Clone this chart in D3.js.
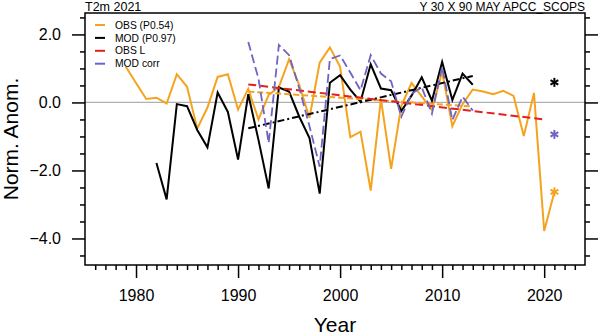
<!DOCTYPE html>
<html>
<head>
<meta charset="utf-8">
<script src="https://cdn.jsdelivr.net/npm/d3@7"></script>
<style>
  body { margin: 0; background: #fff; }
  svg { display: block; font-family: "Liberation Sans", Arial, Helvetica, sans-serif; }
</style>
</head>
<body>
<svg id="chart" width="599" height="336"></svg>
<script>
// observed normalized anomaly, 1979-2021
const obsYears = d3.range(1979, 2022);
const obsValues = [
  1.05, 0.57, 0.10, 0.14, -0.03, 0.83, 0.46, -0.77, -0.15, 0.75,
  0.83, -0.21, 0.40, -0.50, 0.22, 0.45, 1.27, 0.50, -0.45, 1.17,
  1.62, 1.05, -1.02, -0.86, -2.59, 0.10, -1.95, -0.10, 0.57, 0.18,
  -0.22, 0.90, -0.70, -0.05, 0.38, 0.32, 0.24, 0.34, 0.19, -0.99,
  0.28, -3.78, -2.63
];

// model hindcast, 1982-2013
const modYears = d3.range(1982, 2014);
const modValues = [
  -1.78, -2.85, -0.05, -0.11, -0.81, -1.32, 0.29, -0.28, -1.68, 0.24,
  -1.10, -2.53, 0.44, 0.32, -0.42, -1.05, -2.68, 0.58, 0.80, 0.38,
  0.02, 1.12, 0.41, 0.36, -0.25, 0.20, 0.74, 0.05, 1.19, 0.07,
  0.85, 0.52
];

// corrected model, 1991-2013
const corrYears = d3.range(1991, 2014);
const corrValues = [
  1.78, 0.70, -1.19, 1.69, 1.39, 0.42, -0.70, -1.89, 1.28, 1.38,
  0.88, 0.36, 1.39, 0.85, 0.62, -0.42, 0.25, 0.45, -0.33, 1.05,
  -0.52, 0.17, -0.24
];

// linear trends (end points)
const obsTrend = [[1991, 0.53], [2020, -0.50]];
const obsTrendHind = [[1991, 0.32], [2013, -0.12]];
const modTrend = [[1991, -0.76], [2013, 0.78]];

// 2021 forecast markers
const fcstYear = 2021;
const fcstObs = -2.63;
const fcstMod = 0.59;
const fcstCorr = -0.94;

const yTicks = [2, 0, -2, -4];
const xTicks = [1980, 1990, 2000, 2010, 2020];
const legendNames = ["OBS (P0.54)", "MOD (P0.97)", "OBS L", "MOD corr"];

const ORANGE = "#f5a31f", PURPLE = "#6f63c4", RED = "#e4201c";

const margin = {top: 13, right: 14, bottom: 71, left: 85};
const width = 599 - margin.left - margin.right,
      height = 336 - margin.top - margin.bottom;

const svg = d3.select("#chart");
const g = svg.append("g").attr("transform", "translate(" + margin.left + "," + margin.top + ")");

const x = d3.scaleLinear().domain([1975, 2024]).range([0, width]);
const y = d3.scaleLinear().domain([-4.78, 2.63]).range([height, 0]);

// zero line
g.append("line")
  .attr("x1", 0).attr("x2", width)
  .attr("y1", y(0)).attr("y2", y(0))
  .style("stroke", "#b0b0b0").style("stroke-width", 1.2);

const line = d3.line().x(d => x(d[0])).y(d => y(d[1]));
const zip = (a, b) => a.map((v, i) => [v, b[i]]);

function drawLine(data, color, w, dash) {
  g.append("path")
    .datum(data)
    .attr("d", line)
    .style("fill", "none")
    .style("stroke", color)
    .style("stroke-width", w)
    .style("stroke-linejoin", "miter")
    .style("stroke-dasharray", dash || null);
}

drawLine(zip(obsYears, obsValues), ORANGE, 2);
drawLine(zip(modYears, modValues), "#000", 2);
drawLine(obsTrendHind, ORANGE, 2, "6,3");
drawLine(modTrend, "#000", 2, "7,3,2,3");
drawLine(obsTrend, RED, 2, "8,4");
drawLine(zip(corrYears, corrValues), PURPLE, 1.8, "9,4");

// forecast asterisks
function asterisk(yr, val, color) {
  const cx = x(yr), cy = y(val), r = 4.5;
  const a = g.append("g").attr("transform", "translate(" + cx + "," + cy + ")");
  [90, 30, 150].forEach(ang => {
    const t = ang * Math.PI / 180;
    a.append("line")
      .attr("x1", -r * Math.cos(t)).attr("y1", -r * Math.sin(t))
      .attr("x2", r * Math.cos(t)).attr("y2", r * Math.sin(t))
      .style("stroke", color).style("stroke-width", 2);
  });
}
asterisk(fcstYear, fcstMod, "#000");
asterisk(fcstYear, fcstCorr, PURPLE);
asterisk(fcstYear, fcstObs, ORANGE);

// axes, ticks pointing outward
const minorX = d3.range(1976, 2024).filter(v => v % 10 !== 0);
const minorY = d3.range(-4.5, 2.6, 0.5).filter(v => Math.abs(v % 2) > 0.01);

function styleAxis(sel) {
  sel.select(".domain").remove();
  sel.selectAll("line").style("stroke", "#000").style("stroke-width", 1.5);
  sel.selectAll("text").style("font-size", "16px").style("fill", "#000");
}

g.append("g").attr("transform", "translate(0," + height + ")")
  .call(d3.axisBottom(x).tickValues(minorX).tickSize(5).tickFormat(""))
  .call(styleAxis);
g.append("g").attr("transform", "translate(0," + height + ")")
  .call(d3.axisBottom(x).tickValues(xTicks).tickSize(13).tickPadding(12).tickFormat(d3.format("d")))
  .call(styleAxis);

g.append("g")
  .call(d3.axisLeft(y).tickValues(minorY).tickSize(5).tickFormat(""))
  .call(styleAxis);
g.append("g")
  .call(d3.axisLeft(y).tickValues(yTicks).tickSize(13).tickPadding(11).tickFormat(d3.format(".1f")))
  .call(styleAxis);
g.append("g").attr("transform", "translate(" + width + ",0)")
  .call(d3.axisRight(y).tickValues(minorY).tickSize(5).tickFormat(""))
  .call(styleAxis);
g.append("g").attr("transform", "translate(" + width + ",0)")
  .call(d3.axisRight(y).tickValues(yTicks).tickSize(13).tickFormat(""))
  .call(styleAxis);

// frame
g.append("rect")
  .attr("width", width).attr("height", height)
  .style("fill", "none").style("stroke", "#000").style("stroke-width", 1.5);

// legend
const legend = g.append("g").attr("transform", "translate(10,12)");
const legendColors = [ORANGE, "#000", RED, PURPLE];
legendNames.forEach((name, i) => {
  const row = legend.append("g").attr("transform", "translate(0," + (i * 12.9) + ")");
  row.append("line").attr("x1", 0).attr("x2", 10)
    .style("stroke", legendColors[i]).style("stroke-width", 2);
  row.append("text").attr("x", 20).attr("y", 3.6)
    .style("font-size", "10.3px").text(name);
});

// titles
svg.append("text").attr("x", 85).attr("y", 10.5)
  .style("font-size", "12.5px").text("T2m 2021");
svg.append("text").attr("x", 585).attr("y", 10.5).attr("text-anchor", "end")
  .style("font-size", "12px").text("Y 30 X 90 MAY APCC_SCOPS");

svg.append("text")
  .attr("transform", "translate(18," + (margin.top + height / 2) + ") rotate(-90)")
  .attr("text-anchor", "middle")
  .style("font-size", "21px").text("Norm. Anom.");
svg.append("text")
  .attr("x", margin.left + width / 2).attr("y", 332)
  .attr("text-anchor", "middle")
  .style("font-size", "21px").text("Year");
</script>
</body>
</html>
